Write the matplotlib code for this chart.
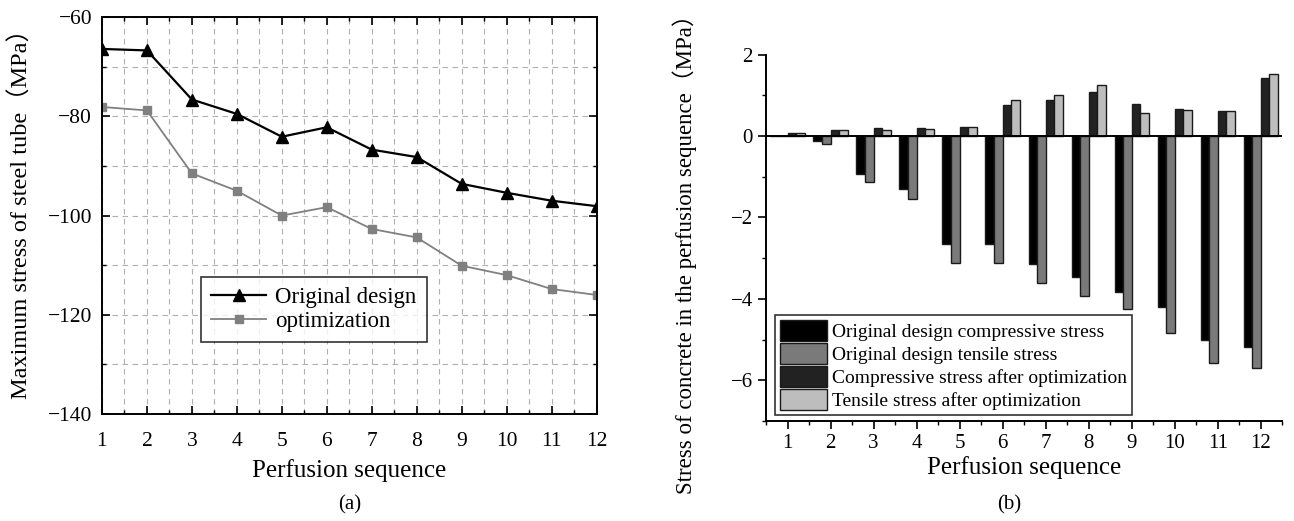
import numpy as np
import matplotlib.pyplot as plt
from matplotlib.ticker import MultipleLocator

plt.rcParams['font.family'] = ['Liberation Serif', 'Noto Sans CJK SC']
plt.rcParams['axes.unicode_minus'] = True

## Data
seq = np.arange(1, 13)
original_design = [-66.4, -66.7, -76.6, -79.5, -84.1, -82.2,
                   -86.7, -88.2, -93.6, -95.4, -97.0, -98.1]
optimization = [-78.1, -78.8, -91.5, -95.0, -100.0, -98.3,
                -102.7, -104.4, -110.1, -112.0, -114.8, -116.0]

orig_comp = [0.0, -0.12, -0.93, -1.30, -2.66, -2.66,
             -3.14, -3.47, -3.84, -4.21, -5.02, -5.18]
orig_tens = [0.0, -0.19, -1.12, -1.55, -3.11, -3.11,
             -3.62, -3.93, -4.24, -4.84, -5.57, -5.71]
opt_comp = [0.07, 0.14, 0.20, 0.20, 0.22, 0.76,
            0.89, 1.09, 0.80, 0.67, 0.62, 1.43]
opt_tens = [0.07, 0.14, 0.16, 0.17, 0.22, 0.88,
            1.02, 1.25, 0.57, 0.65, 0.62, 1.52]

bar_series = [
    ('Original design compressive stress', orig_comp, '#000000'),
    ('Original design tensile stress', orig_tens, '#7a7a7a'),
    ('Compressive stress after optimization', opt_comp, '#222222'),
    ('Tensile stress after optimization', opt_tens, '#bdbdbd'),
]

fig = plt.figure(figsize=(12.94, 5.21), dpi=100)

## (a) line chart
ax1 = fig.add_axes([0.0788, 0.2054, 0.3822, 0.7616])
ax1.plot(seq, original_design, color='black', lw=1.6, marker='^', ms=8,
         label='Original design')
ax1.plot(seq, optimization, color='#808080', lw=1.3, marker='s', ms=5.5,
         label='optimization')
ax1.set_xlim(1, 12)
ax1.set_ylim(-140, -60)
ax1.set_xticks(seq)
ax1.xaxis.set_minor_locator(MultipleLocator(0.5))
ax1.yaxis.set_major_locator(MultipleLocator(20))
ax1.yaxis.set_minor_locator(MultipleLocator(10))
ax1.grid(which='both', ls=(0, (5, 4)), color='#b0b0b0', lw=0.8)
ax1.tick_params(which='both', direction='in', top=True, right=True,
                labelsize=15.5)
ax1.tick_params(axis='x', which='major', pad=13)
ax1.tick_params(axis='y', which='major', pad=7)
ax1.tick_params(which='major', length=6, width=1.2)
ax1.tick_params(which='minor', length=3, width=1)
for s in ax1.spines.values():
    s.set_linewidth(1.4)
ax1.set_xlabel('Perfusion sequence', fontsize=18, labelpad=6)
ax1.set_ylabel('Maximum stress of steel tube（MPa）', fontsize=17.5)
ax1.yaxis.set_label_coords(-0.14, 0.52)
leg1 = ax1.legend(loc='upper left', bbox_to_anchor=(0.2, 0.345), fontsize=16.5,
                  frameon=True, fancybox=False, edgecolor='black',
                  handlelength=2.4, handletextpad=0.4, borderpad=0.45,
                  labelspacing=0.1, borderaxespad=0)
leg1.get_frame().set_linewidth(1.2)
ax1.text(0.5, -0.229, '(a)', transform=ax1.transAxes, ha='center',
         va='center', fontsize=15)

## (b) bar chart
ax2 = fig.add_axes([0.592, 0.192, 0.399, 0.703])
width = 0.2
offsets = [-0.3, -0.1, 0.1, 0.3]
for (label, vals, col), off in zip(bar_series, offsets):
    ax2.bar(seq + off, vals, width=width, color=col, edgecolor='#1a1a1a',
            lw=1.0, label=label, zorder=3)
ax2.axhline(0, color='black', lw=1.4, zorder=4)
ax2.set_xlim(0.5, 12.5)
ax2.set_ylim(-7, 2)
ax2.set_xticks(seq)
ax2.xaxis.set_minor_locator(MultipleLocator(0.5))
ax2.set_yticks([-6, -4, -2, 0, 2])
ax2.yaxis.set_minor_locator(MultipleLocator(1))
ax2.spines['top'].set_visible(False)
ax2.spines['right'].set_visible(False)
for s in ('left', 'bottom'):
    ax2.spines[s].set_linewidth(1.4)
ax2.tick_params(which='both', direction='out', labelsize=15)
ax2.tick_params(which='major', length=6, width=1.2)
ax2.tick_params(which='minor', length=3, width=1)
ax2.set_xlabel('Perfusion sequence', fontsize=18, labelpad=2)
ax2.set_ylabel('Stress of concrete in the perfusion sequence（MPa）',
               fontsize=16.5)
ax2.yaxis.set_label_coords(-0.134, 0.47)
leg2 = ax2.legend(loc='lower left', bbox_to_anchor=(0.01, 0.005), fontsize=14,
                  frameon=True, fancybox=False, edgecolor='black',
                  handlelength=2.4, handleheight=1.3, borderpad=0.25,
                  labelspacing=0.1, handletextpad=0.3, borderaxespad=0.2)
leg2.get_frame().set_linewidth(1.2)
ax2.text(0.47, -0.229, '(b)', transform=ax2.transAxes, ha='center',
         va='center', fontsize=15)

fig.savefig('out.png', dpi=100)
